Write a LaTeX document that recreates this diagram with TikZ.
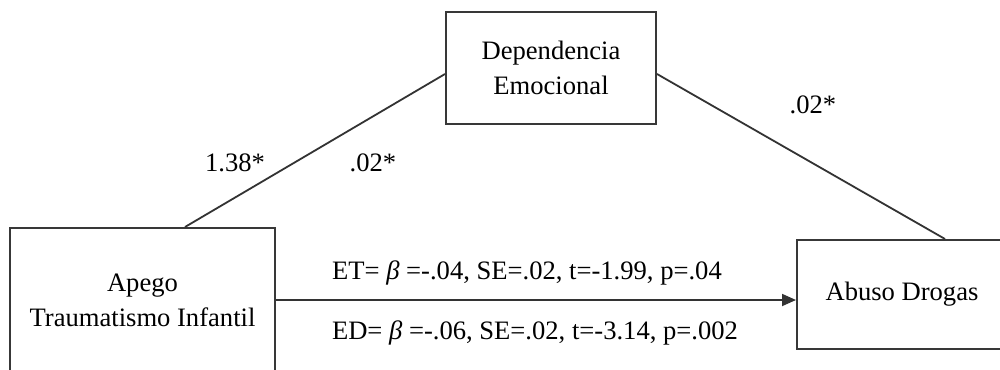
\documentclass[tikz,border=0pt]{standalone}
\usepackage{fontspec}
\setmainfont{Liberation Serif}
\usetikzlibrary{arrows.meta,calc}
\tikzset{
  box/.style={draw=black!78, line width=1pt, rectangle, align=center, inner sep=0pt,
    font=\fontsize{13.3}{17.5}\selectfont},
  lbl/.style={font=\fontsize{13.3}{16}\selectfont, inner sep=0pt},
  path/.style={draw=black!80, line width=0.9pt},
}
\begin{document}
\begin{tikzpicture}[x=0.5pt,y=-0.5pt]
\useasboundingbox[fill=white] (0,0) rectangle (1000,369);
\node[box, minimum width=113pt, minimum height=54.5pt] (abuso) at (910,294.5) {\hspace*{-8pt}Abuso Drogas};
\node[box, minimum width=105pt, minimum height=56pt] (dep) at (551,68) {Dependencia\\Emocional};
\node[box, minimum width=132.5pt, minimum height=72pt] (apego) at (142.5,300) {Apego\\Traumatismo Infantil};
\draw[path] ([xshift=21.25pt]apego.north) -- ([yshift=-3pt]dep.west);
\draw[path] ([yshift=-3pt]dep.east) -- ([xshift=17.5pt]abuso.north);
\draw[path, -{Triangle[length=7pt,width=6pt]}] (apego.east) -- (apego.east -| abuso.west);
\node[lbl] (l1) at (235,163) {1.38*};
\node[lbl] (l2) at (373,163) {.02*};
\node[lbl] (l3) at (813,105) {.02*};
\node[lbl] (et) at (527,273) {ET= {\itshape β} =-.04, SE=.02, t=-1.99, p=.04};
\node[lbl] (ed) at (535,333) {ED= {\itshape β} =-.06, SE=.02, t=-3.14, p=.002};
\end{tikzpicture}
\end{document}
